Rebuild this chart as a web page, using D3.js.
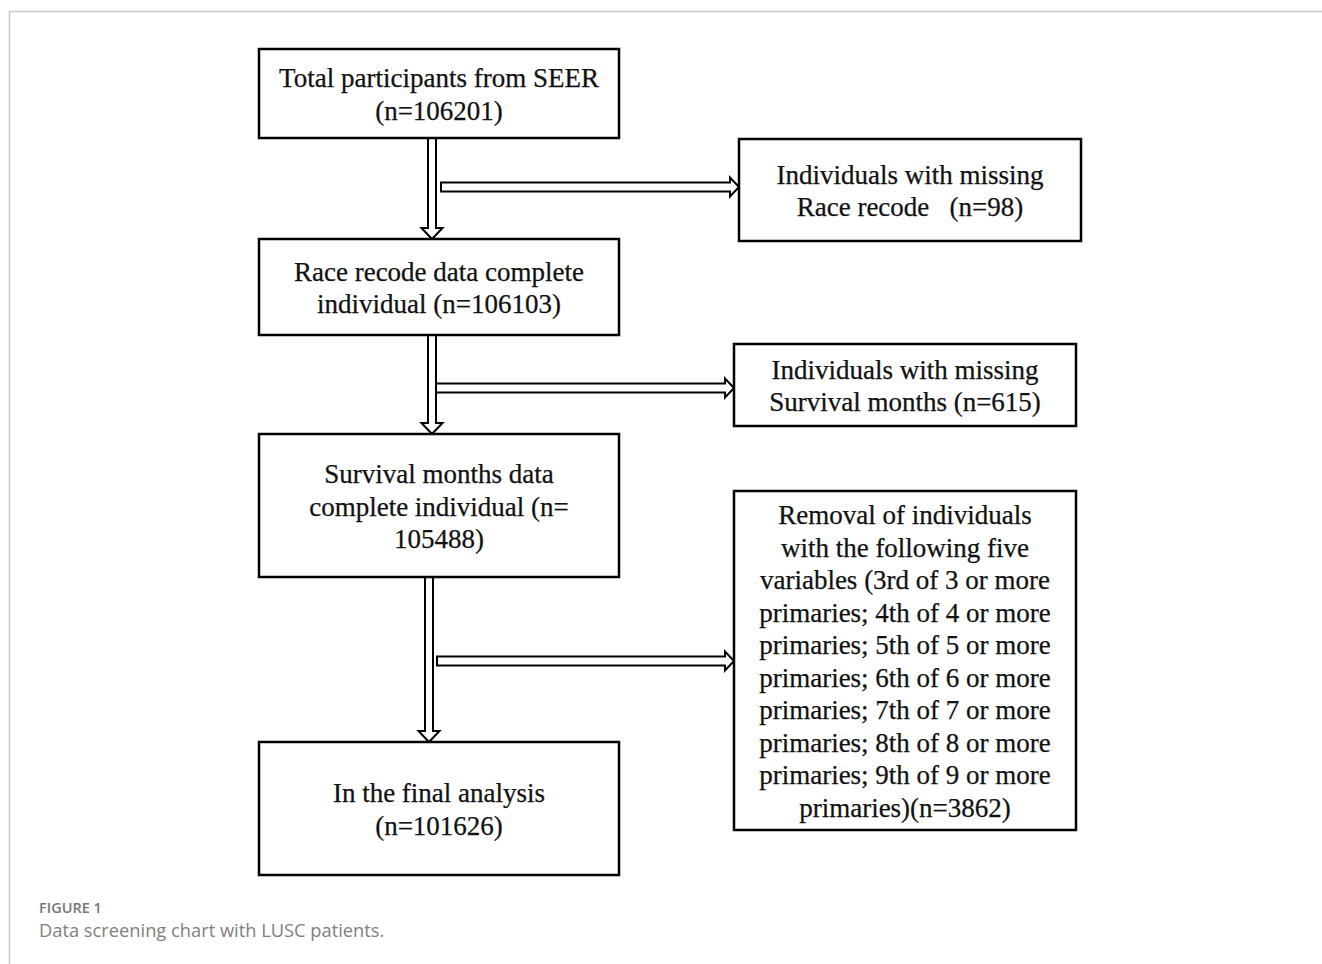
<!DOCTYPE html>
<html>
<head>
<meta charset="utf-8">
<script src="https://cdn.jsdelivr.net/npm/d3@7/dist/d3.min.js"></script>
<style>
  html, body { margin: 0; padding: 0; background: #fff; }
  svg { display: block; }
  .box-text { font-family: "Liberation Serif", "Times New Roman", serif; font-size: 27px; fill: #111; stroke: #111; stroke-width: 0.25; white-space: pre; }
</style>
</head>
<body>
<svg id="chart" width="1322" height="964"></svg>
<script>
// ---- Data (flow steps, counts) ----
const mainLabels = [
  ["Total participants from SEER", "(n=106201)"],
  ["Race recode data complete", "individual (n=106103)"],
  ["Survival months data", "complete individual (n=", "105488)"],
  ["In the final analysis", "(n=101626)"]
];
const exclusionLabels = [
  ["Individuals with missing", "Race recode   (n=98)"],
  ["Individuals with missing", "Survival months (n=615)"],
  ["Removal of individuals", "with the following five", "variables (3rd of 3 or more",
   "primaries; 4th of 4 or more", "primaries; 5th of 5 or more", "primaries; 6th of 6 or more",
   "primaries; 7th of 7 or more", "primaries; 8th of 8 or more", "primaries; 9th of 9 or more",
   "primaries)(n=3862)"]
];
const mainCounts = [106201, 106103, 105488, 101626];
const exclusionCounts = [98, 615, 3862];
const captionTitle = "FIGURE 1";
const captionText = "Data screening chart with LUSC patients.";

// ---- Layout (positions only) ----
const mainBoxes = [
  {x0: 259, y0: 49,  x1: 619, y1: 138},
  {x0: 259, y0: 239, x1: 619, y1: 335},
  {x0: 259, y0: 434, x1: 619, y1: 577},
  {x0: 259, y0: 742, x1: 619, y1: 875}
];
const exclBoxes = [
  {x0: 739, y0: 139, x1: 1081, y1: 241},
  {x0: 734, y0: 344, x1: 1076, y1: 426},
  {x0: 734, y0: 491, x1: 1076, y1: 830}
];
const vArrows = [
  {cx: 432, y0: 138, y1: 239},
  {cx: 432, y0: 335, y1: 434},
  {cx: 429, y0: 577, y1: 742}
];
const hArrows = [
  {cy: 187, x0: 441, x1: 739},
  {cy: 388, x0: 436, x1: 734},
  {cy: 661, x0: 437, x1: 734}
];

const svg = d3.select("#chart");
const lineH = 32.5, baseOff = 10;

// frame
svg.append("path")
  .attr("d", "M9.5,964 L9.5,11.5 L1322,11.5")
  .attr("fill", "none").attr("stroke", "#c8c8c8").attr("stroke-width", 1.5);

function drawBox(b, lines) {
  const g = svg.append("g");
  g.append("rect")
    .attr("x", b.x0).attr("y", b.y0)
    .attr("width", b.x1 - b.x0).attr("height", b.y1 - b.y0)
    .attr("fill", "#fff").attr("stroke", "#000").attr("stroke-width", 2.5);
  const cx = (b.x0 + b.x1) / 2, cy = (b.y0 + b.y1) / 2;
  const first = cy - (lines.length - 1) / 2 * lineH + baseOff;
  g.selectAll("text").data(lines).join("text")
    .attr("class", "box-text")
    .attr("x", cx).attr("y", (d, i) => first + i * lineH)
    .attr("text-anchor", "middle")
    .text(d => d);
}

// arrows (hollow double-line)
const w = 4, hw = 10.5, hl = 11;
const line = d3.line();
vArrows.forEach(a => {
  const pts = [[a.cx - w, a.y0], [a.cx + w, a.y0], [a.cx + w, a.y1 - hl], [a.cx + hw, a.y1 - hl],
               [a.cx, a.y1], [a.cx - hw, a.y1 - hl], [a.cx - w, a.y1 - hl]];
  svg.append("path").attr("d", line(pts) + "Z")
    .attr("fill", "#fff").attr("stroke", "#000").attr("stroke-width", 2).attr("stroke-linejoin", "miter");
});
hArrows.forEach(a => {
  const hww = 4.5, hh = 9.5, hlen = 9;
  const pts = [[a.x0, a.cy - hww], [a.x1 - hlen, a.cy - hww], [a.x1 - hlen, a.cy - hh], [a.x1, a.cy],
               [a.x1 - hlen, a.cy + hh], [a.x1 - hlen, a.cy + hww], [a.x0, a.cy + hww]];
  svg.append("path").attr("d", line(pts) + "Z")
    .attr("fill", "#fff").attr("stroke", "#000").attr("stroke-width", 2).attr("stroke-linejoin", "miter");
});

mainBoxes.forEach((b, i) => drawBox(b, mainLabels[i]));
exclBoxes.forEach((b, i) => drawBox(b, exclusionLabels[i]));

// caption
svg.append("text").attr("x", 39).attr("y", 913)
  .attr("font-family", "'Open Sans', sans-serif").attr("font-size", 14.5).attr("font-weight", 600)
  .attr("fill", "#777").text(captionTitle);
svg.append("text").attr("x", 39).attr("y", 937)
  .attr("font-family", "'Open Sans', sans-serif").attr("font-size", 18.3).attr("font-weight", 400)
  .attr("fill", "#808080").text(captionText);
</script>
</body>
</html>
